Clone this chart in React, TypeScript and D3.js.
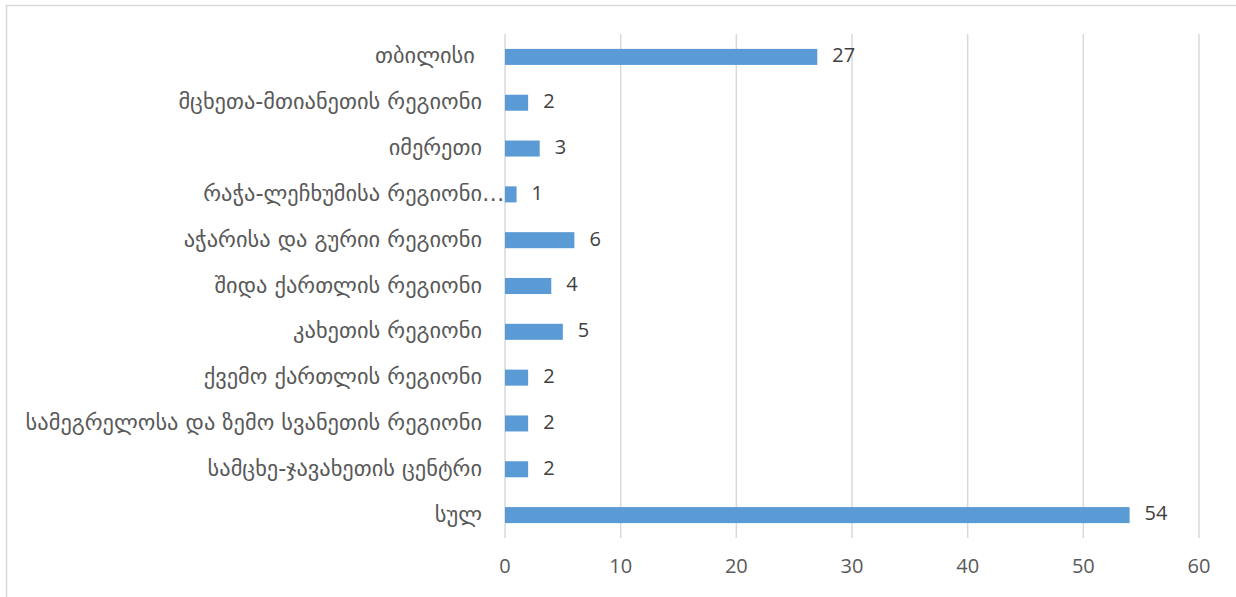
import React from "react";
import * as d3 from "d3";

const categories = [
  "თბილისი ",
  "მცხეთა-მთიანეთის რეგიონი",
  "იმერეთი",
  "რაჭა-ლეჩხუმისა რეგიონი",
  "აჭარისა და გურიი რეგიონი",
  "შიდა ქართლის რეგიონი",
  "კახეთის რეგიონი",
  "ქვემო ქართლის რეგიონი",
  "სამეგრელოსა და ზემო სვანეთის რეგიონი",
  "სამცხე-ჯავახეთის ცენტრი",
  "სულ",
];
const truncated = [false, false, false, true, false, false, false, false, false, false, false];
const values = [27, 2, 3, 1, 6, 4, 5, 2, 2, 2, 54];
const ticks = [0, 10, 20, 30, 40, 50, 60];

const W = 1236;
const H = 597;
const left = 505;
const right = 1199;
const top = 34;
const bottom = 538;

export default function App() {
  const x = d3.scaleLinear().domain([0, 60]).range([left, right]);
  const y = d3
    .scaleBand<string>()
    .domain(categories)
    .range([top, bottom])
    .paddingInner(0.65)
    .paddingOuter(0.325);
  const labelFont = "'DejaVu Sans', sans-serif";
  const numFont = "'Liberation Sans Narrow', 'Open Sans', sans-serif";
  return (
    <svg
      width={W}
      height={H}
      style={{ position: "absolute", left: 0, top: 0, background: "#fff" }}
    >
      <rect x={6.5} y={5.5} width={W + 10} height={H + 10} fill="#fff" stroke="#d9d9d9" strokeWidth={1.5} />
      {ticks.map((t) => (
        <g key={t}>
          <line x1={x(t)} x2={x(t)} y1={top} y2={bottom} stroke="#d9d9d9" strokeWidth={1.5} />
          <text
            x={x(t)}
            y={568}
            textAnchor="middle"
            dominantBaseline="middle"
            fontFamily={numFont}
            fontSize={20}
            fill="#595959"
          >
            {t}
          </text>
        </g>
      ))}
      {categories.map((c, i) => {
        const yc = (y(c) as number) + y.bandwidth() / 2;
        return (
          <g key={c}>
            <rect
              x={x(0)}
              y={y(c)}
              width={x(values[i]) - x(0)}
              height={y.bandwidth()}
              fill="#5b9bd5"
            />
            <text
              x={x(values[i]) + 15}
              y={yc}
              dominantBaseline="middle"
              fontFamily={numFont}
              fontSize={20}
              fill="#404040"
            >
              {values[i]}
            </text>
            <text
              x={482}
              y={yc}
              textAnchor="end"
              dominantBaseline="middle"
              fontFamily={labelFont}
              fontSize={22.4}
              fill="#595959"
              style={{ whiteSpace: "pre" }}
            >
              {c}
            </text>
            {truncated[i] && (
              <text
                x={482}
                y={yc}
                dominantBaseline="middle"
                fontFamily={labelFont}
                fontSize={22.4}
                fill="#595959"
              >
                …
              </text>
            )}
          </g>
        );
      })}
    </svg>
  );
}
